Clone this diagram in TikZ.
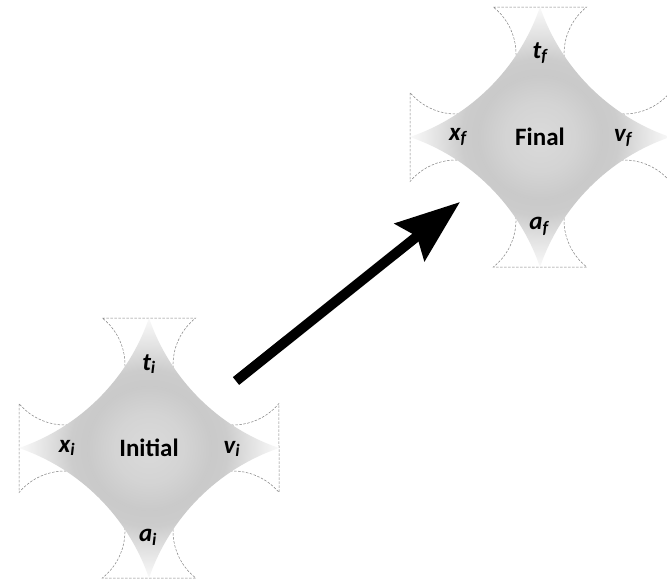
\documentclass[tikz,border=0pt]{standalone}
\usepackage{fontspec}
\setmainfont{Carlito}
\usetikzlibrary{arrows.meta}
\pgfdeclareradialshading{starshade}{\pgfpoint{0bp}{0bp}}{%
  color(0bp)=(black!11); color(8bp)=(black!15); color(35bp)=(black!17);
  color(62bp)=(black!21); color(78bp)=(black!20); color(100bp)=(black!12);
  color(124bp)=(black!4); color(135bp)=(white)}
\newcommand\drawastroid[3]{%
  \begin{scope}[shift={#1}]
    \draw[bite] (-46.7,130) -- (46.7,130)
      arc[start angle=128.4,end angle=320.1,radius=60pt] -- (130,-44.5)
      arc[start angle=39.9,end angle=231.6,radius=60pt] -- (-46.7,-130)
      arc[start angle=-51.6,end angle=140.1,radius=60pt] -- (-130,44.5)
      arc[start angle=-140.1,end angle=51.6,radius=60pt] -- cycle;
    \begin{scope}
      \clip (0,130)
        arc[start angle=-18.95,end angle=-71.05,radius=209.35pt]
        arc[start angle=71.05,end angle=18.95,radius=209.35pt]
        arc[start angle=161.05,end angle=108.95,radius=209.35pt]
        arc[start angle=-108.95,end angle=-161.05,radius=209.35pt] -- cycle;
      \node[inner sep=0pt, outer sep=0pt] (shade-#2) at (0,0) {\pgfuseshading{starshade}};
    \end{scope}
    \node[ttl] (title-#2) at (0,0) {#3};
    \node[lbl] (t-#2) at (0,84) {t\textsubscript{#2}};
    \node[lbl] (x-#2) at (-82,0) {x\textsubscript{#2}};
    \node[lbl] (v-#2) at (83,-1) {v\textsubscript{#2}};
    \node[lbl] (a-#2) at (-1,-89) {a\textsubscript{#2}};
  \end{scope}}
\begin{document}
\begin{tikzpicture}[x=1pt,y=1pt,
  lbl/.style={font=\fontsize{25}{29}\selectfont\bfseries\itshape, inner sep=0pt},
  ttl/.style={font=\fontsize{25}{29}\selectfont\bfseries, inner sep=0pt},
  bite/.style={draw=black!50, line width=0.5pt, dash pattern=on 2.5pt off 1.5pt},
  bigarrow/.style={line width=10pt, -{Stealth[length=64pt,width=47pt,inset=9pt]}}]
  \clip (0,0) rectangle (667,-584);
  \fill[white] (0,0) rectangle (667,-584);
  \drawastroid{(149,-448)}{i}{Initial}
  \drawastroid{(540,-137)}{f}{Final}
  \coordinate (arrowtail) at (236,-381);
  \coordinate (arrowtip) at (460,-202);
  \draw[bigarrow] (arrowtail) -- (arrowtip);
\end{tikzpicture}
\end{document}
